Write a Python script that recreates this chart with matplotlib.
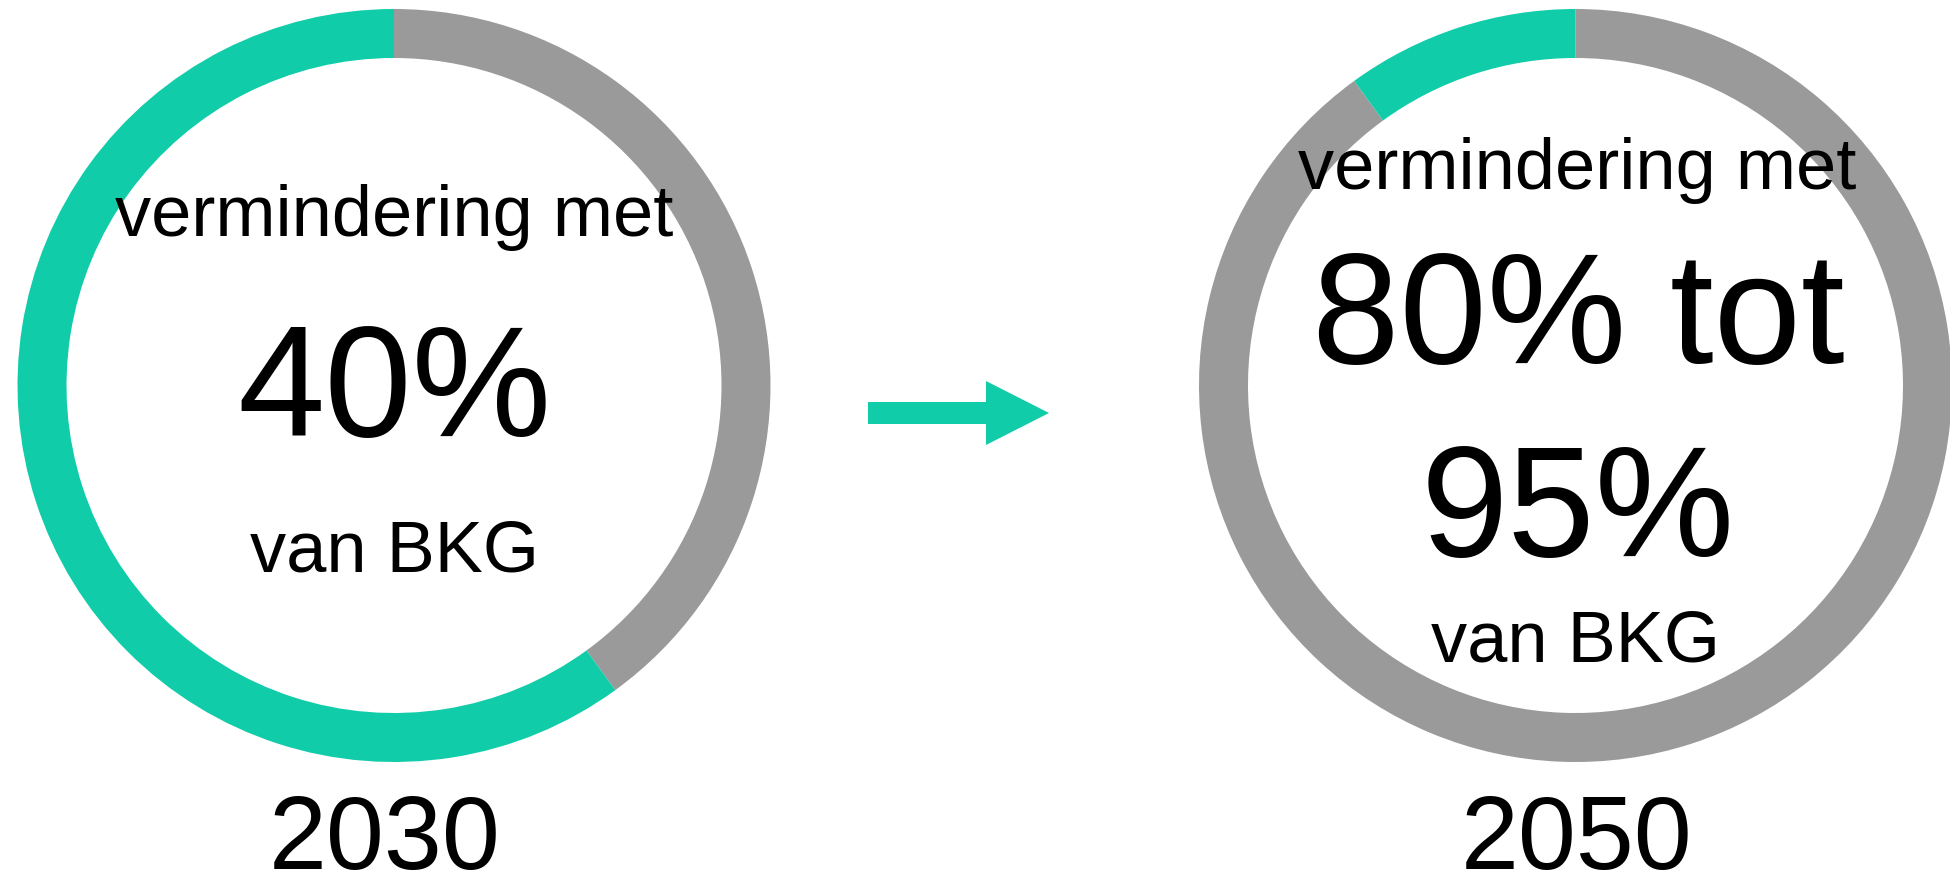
import matplotlib.pyplot as plt

# shares of the ring: grey = reduction, teal = rest
years = ["2030", "2050"]
reduction = [40, 90]
remaining = [60, 10]
top_line = "vermindering met"
big_lines = [["40%"], ["80% tot", "95%"]]
bottom_line = "van BKG"

TEAL = "#11cca8"
GREY = "#9a9a9a"
W, H = 1950, 877

plt.rcParams['font.family'] = ['Liberation Sans', 'DejaVu Sans']

fig = plt.figure(figsize=(W / 100, H / 100), dpi=100)
ax = fig.add_axes([0, 0, 1, 1])

centers_x = [394, 1575.5]
cy = H - 385.5
for i, cx in enumerate(centers_x):
    ax.pie([reduction[i], remaining[i]], colors=[GREY, TEAL], startangle=90,
           counterclock=False, radius=376.5, center=(cx, cy),
           wedgeprops=dict(width=49, linewidth=0))

# text inside the rings (baselines in pixels from top)
ax.text(394.5, H - 236, top_line, fontsize=52, ha="center", va="baseline")
ax.text(394.5, H - 436, big_lines[0][0], fontsize=113, ha="center", va="baseline")
ax.text(394, H - 571, bottom_line, fontsize=52, ha="center", va="baseline")
ax.text(385, H - 869, years[0], fontsize=75, ha="center", va="baseline")

ax.text(1577, H - 189, top_line, fontsize=52, ha="center", va="baseline")
ax.text(1578.5, H - 363, big_lines[1][0], fontsize=113, ha="center", va="baseline")
ax.text(1578, H - 556, big_lines[1][1], fontsize=113, ha="center", va="baseline")
ax.text(1575.5, H - 661, bottom_line, fontsize=52, ha="center", va="baseline")
ax.text(1577, H - 869, years[1], fontsize=75, ha="center", va="baseline")

# arrow between the two rings
ax.arrow(868, H - 413, 181, 0, width=22, head_width=64, head_length=63,
         length_includes_head=True, color=TEAL, linewidth=0)

ax.set_xlim(0, W)
ax.set_ylim(0, H)
ax.set_aspect("equal")
ax.axis("off")

fig.savefig("out.png", dpi=100, facecolor="white")
